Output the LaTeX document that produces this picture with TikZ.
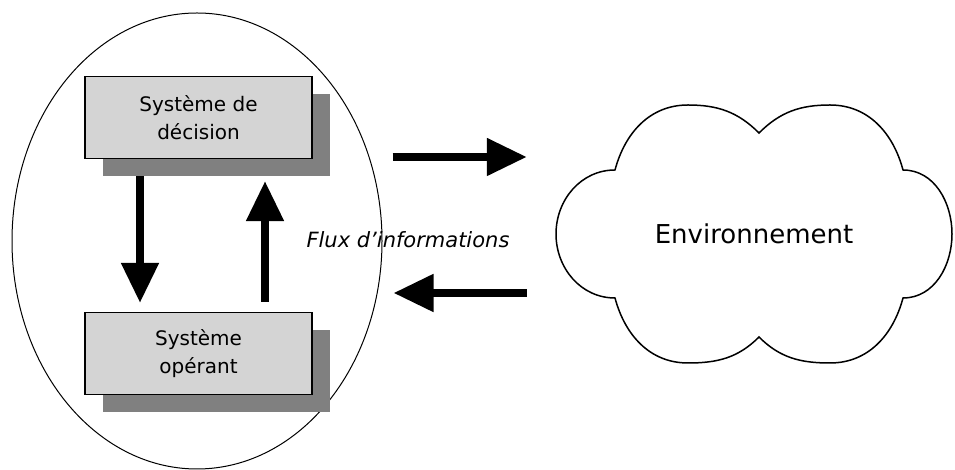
\documentclass[tikz,border=0pt]{standalone}
\usepackage{fontspec}
\setmainfont{DejaVu Sans}
\usetikzlibrary{shapes.geometric,arrows.meta}
\definecolor{boxgray}{RGB}{212,212,212}
\definecolor{shadowgray}{RGB}{128,128,128}
\tikzstyle{sysbox} = [rectangle, minimum width=227pt, minimum height=82pt, inner sep=0pt, align=center, font=\fontsize{20}{28}\selectfont]
\tikzstyle{flow} = [line width=8pt, -{Triangle[width=36pt,length=40pt]}]

\begin{document}
\begin{tikzpicture}[x=1pt,y=1pt]
	\useasboundingbox (0,0) rectangle (955,470);

	% the system
	\node[ellipse, draw, line width=1pt, minimum width=370pt, minimum height=456pt, inner sep=0pt] (sys) at (197,229) {};

	\node[sysbox, fill=shadowgray] (decshadow) at (216.5,334.5) {};
	\node[sysbox, fill=boxgray, draw, line width=1.2pt] (dec) at (198.5,352.5) {Système de\\décision};

	\node[sysbox, fill=shadowgray] (opshadow) at (216.5,98.5) {};
	\node[sysbox, fill=boxgray, draw, line width=1.2pt] (op) at (198.5,116.5) {Système\\opérant};

	\draw[flow] ([shift={(-58.5pt,-17pt)}]dec.south) -- ([shift={(-58.5pt,9pt)}]op.north);
	\draw[flow] ([shift={(66.5pt,10pt)}]op.north) -- ([shift={(66.5pt,-22pt)}]dec.south);

	% the environment
	\draw[line width=1.5pt] (615,300) to[out=75,in=180] (688,365) to[out=0,in=135] (759,337)
		to[out=45,in=180] (830,365) to[out=0,in=105] (903,300)
		to[out=0,in=90] (952,236) to[out=-90,in=0] (903,172)
		to[out=-105,in=0] (830,107) to[out=180,in=-45] (759,133)
		to[out=-135,in=0] (688,107) to[out=180,in=-75] (615,172)
		to[out=180,in=-90] (556,236) to[out=90,in=180] cycle;
	\node[minimum width=398pt, minimum height=258pt, inner sep=0pt, font=\fontsize{26}{30}\selectfont] (env) at (754,236) {Environnement};

	\node[font=\fontsize{21}{24}\selectfont\itshape] (flux) at (408,230) {Flux d'informations};

	\draw[flow] ([shift={(10pt,84pt)}]sys.east) -- ([shift={(-28pt,77pt)}]env.west);
	\draw[flow] ([shift={(-28pt,-59pt)}]env.west) -- ([shift={(11pt,-52pt)}]sys.east);

\end{tikzpicture}
\end{document}
